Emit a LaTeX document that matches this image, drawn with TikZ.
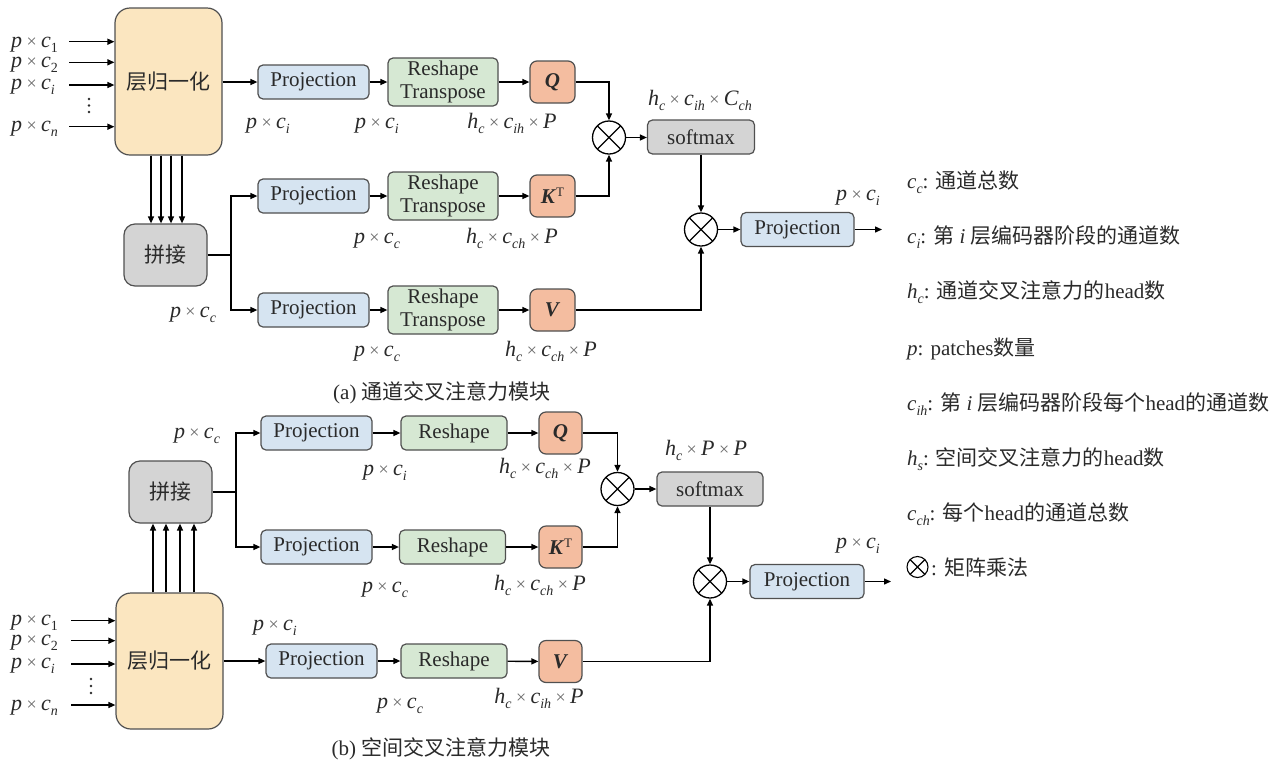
\documentclass[tikz,border=0pt]{standalone}
\usepackage{fontspec}
\setmainfont{Liberation Serif}
\newfontfamily\cjk{Noto Sans CJK SC}
\usetikzlibrary{arrows.meta}

\definecolor{lnfill}{HTML}{FBE6C0}
\definecolor{catfill}{HTML}{D4D4D4}
\definecolor{projfill}{HTML}{D6E4F1}
\definecolor{reshfill}{HTML}{D6E8D3}
\definecolor{qkvfill}{HTML}{F4BDA0}
\definecolor{edgec}{HTML}{505050}
\definecolor{txt}{HTML}{2A2A2A}
\definecolor{tmsc}{HTML}{6A6A6A}

\newcommand\sbs[1]{\raisebox{-0.55ex}{\fontsize{14}{14}\selectfont\textit{#1}}}
\newcommand\sbu[1]{\raisebox{-0.55ex}{\fontsize{14}{14}\selectfont #1}}
\newcommand\tx{\hspace{0.2em}{\color{tmsc}\fontsize{18}{18}\selectfont ×}\hspace{0.2em}}
\newcommand\vr[2]{\textit{#1}\sbs{#2}}
\newcommand\px[1]{\textit{p}\tx\vr{c}{#1}}
\newcommand\pxu[1]{\textit{p}\tx\textit{c}\sbu{#1}}
\newcommand\hcp[1]{\vr{h}{c}\tx\vr{c}{#1}\tx\textit{P}}
\newcommand\KT{\textbf{\textit{K}}\raisebox{0.75ex}{\fontsize{13}{13}\selectfont T}}

\begin{document}
\begin{tikzpicture}[x=1pt,y=-1pt,
  font=\fontsize{21}{23.5}\selectfont, text=txt,
  box/.style={draw=edgec, line width=1.2pt, rounded corners=5pt, inner sep=0pt, align=center},
  lnbox/.style={box, fill=lnfill, rounded corners=15pt, minimum width=107pt},
  catbox/.style={box, fill=catfill, rounded corners=11pt, minimum width=83pt, minimum height=62pt},
  proj/.style={box, fill=projfill, minimum width=111pt, minimum height=34pt},
  resh/.style={box, fill=reshfill, minimum height=34pt},
  qkv/.style={box, fill=qkvfill, rounded corners=7pt, minimum height=42pt},
  soft/.style={box, fill=catfill, minimum width=107pt, minimum height=34pt},
  mul/.style={circle, draw=black, line width=1.3pt, minimum size=33pt, inner sep=0pt,
    path picture={\draw[line width=1.3pt] (path picture bounding box.north west) -- (path picture bounding box.south east)
      (path picture bounding box.north east) -- (path picture bounding box.south west);}},
  lab/.style={anchor=base, inner sep=0pt, font=\fontsize{22}{24}\selectfont},
  inlab/.style={anchor=base west, inner sep=0pt, font=\fontsize{22}{24}\selectfont},
  leg/.style={anchor=base west, inner sep=0pt},
  arr/.style={-{Triangle[length=7pt,width=6pt]}, line width=1.4pt, black},
  wire/.style={line width=1.4pt, black},
  dot/.style={fill=txt}
]
\useasboundingbox (0,0) rectangle (1284,761);
\fill[white] (0,0) rectangle (1284,761);

% ================= (a) =================
\node[lnbox, minimum height=147pt] (lnA) at (168.5,81.5) {\cjk 层归一化};
\node[catbox] (catA) at (165.5,255) {\cjk 拼接};

\node[proj] (pA1) at (313.5,82) {Projection};
\node[resh, minimum width=110pt, minimum height=48pt] (rA1) at (443,82) {Reshape\\Transpose};
\node[qkv, minimum width=45pt] (qA) at (552.5,82) {\textbf{\textit{Q}}};

\node[proj] (pA2) at (313.5,196) {Projection};
\node[resh, minimum width=110pt, minimum height=48pt] (rA2) at (443,196) {Reshape\\Transpose};
\node[qkv, minimum width=45pt] (kA) at (552.5,196) {\KT};

\node[proj] (pA3) at (313.5,310) {Projection};
\node[resh, minimum width=110pt, minimum height=48pt] (rA3) at (443,310) {Reshape\\Transpose};
\node[qkv, minimum width=45pt] (vA) at (552.5,310) {\textbf{\textit{V}}};

\node[mul] (mA1) at (609,137.5) {};
\node[soft] (sA) at (701,137) {softmax};
\node[mul] (mA2) at (701,229.5) {};
\node[proj, minimum width=113pt] (pA4) at (797.5,229.5) {Projection};
\coordinate (outA) at (882,229.5);

% inputs (a)
\node[inlab] (iA1) at (11,47) {\pxu{1}};
\node[inlab] (iA2) at (11,67) {\pxu{2}};
\node[inlab] (iA3) at (11,89) {\px{i}};
\node[inlab] (iA4) at (11,131) {\px{n}};
\foreach \yy in {99,105.5,112} \fill[dot] (89,\yy) circle (1.4);
\coordinate (sA1) at (69,41.7);
\coordinate (sA2) at (69,62.3);
\coordinate (sA3) at (69,85);
\coordinate (sA4) at (69,126.7);
\foreach \s in {sA1,sA2,sA3,sA4} \draw[arr] (\s) -- (\s -| lnA.west);

\foreach \xx in {151,161,171,182}
  \draw[arr] (lnA.south -| \xx,0) -- (catA.north -| \xx,0);

\draw[arr] (lnA.east |- pA1.west) -- (pA1.west);
\coordinate (brA) at (231,255);
\draw[wire] (catA.east) -- (brA);
\draw[arr] (brA) |- (pA2.west);
\draw[arr] (brA) |- (pA3.west);

\draw[arr] (pA1) -- (rA1);
\draw[arr] (rA1) -- (qA);
\draw[arr] (pA2) -- (rA2);
\draw[arr] (rA2) -- (kA);
\draw[arr] (pA3) -- (rA3);
\draw[arr] (rA3) -- (vA);

\draw[arr] (qA.east) -| (mA1.north);
\draw[arr] (kA.east) -| (mA1.south);
\draw[arr] (mA1.east) -- (mA1.east -| sA.west);
\draw[arr] (sA.south) -- (mA2.north);
\draw[arr] (vA.east) -| (mA2.south);
\draw[arr] (mA2.east) -- (pA4.west);
\draw[arr] (pA4.east) -- (outA);

% labels (a)
\node[lab] at (268,128) {\px{i}};
\node[lab] at (193,317) {\px{c}};
\node[lab] at (377,128) {\px{i}};
\node[lab] at (512,128) {\hcp{ih}};
\node[lab] at (700,105) {\vr{h}{c}\tx\vr{c}{ih}\tx\vr{C}{ch}};
\node[lab] at (377,243) {\px{c}};
\node[lab] at (512,243) {\hcp{ch}};
\node[lab] at (377,356) {\px{c}};
\node[lab] at (551,356) {\hcp{ch}};
\node[lab] at (858,200) {\px{i}};

\node[anchor=base, inner sep=0pt] (capA) at (442,399) {(a) {\cjk 通道交叉注意力模块}};

% ================= (b) =================
\node[lnbox, minimum height=136pt] (lnB) at (169.5,661) {\cjk 层归一化};
\node[catbox] (catB) at (170.5,492) {\cjk 拼接};

\node[proj] (pB1) at (316.5,433) {Projection};
\node[resh, minimum width=106pt] (rB1) at (454,433) {Reshape};
\node[qkv, minimum width=43pt] (qB) at (560.5,433) {\textbf{\textit{Q}}};

\node[proj] (pB2) at (316.5,547) {Projection};
\node[resh, minimum width=106pt] (rB2) at (452.5,547) {Reshape};
\node[qkv, minimum width=43pt] (kB) at (560.5,547) {\KT};

\node[proj] (pB3) at (321.5,661) {Projection};
\node[resh, minimum width=106pt] (rB3) at (454,661) {Reshape};
\node[qkv, minimum width=43pt] (vB) at (560.5,661.5) {\textbf{\textit{V}}};

\node[mul] (mB1) at (617.5,489) {};
\node[soft, minimum width=106pt] (sB) at (710,489) {softmax};
\node[mul] (mB2) at (710,581.5) {};
\node[proj, minimum width=114pt] (pB4) at (807,581.5) {Projection};
\coordinate (outB) at (891,581.5);

% inputs (b)
\node[inlab] (iB1) at (11,625) {\pxu{1}};
\node[inlab] (iB2) at (11,645) {\pxu{2}};
\node[inlab] (iB3) at (11,668) {\px{i}};
\node[inlab] (iB4) at (11,710) {\px{n}};
\foreach \yy in {679,686,693} \fill[dot] (91,\yy) circle (1.4);
\coordinate (sB1) at (71,620.7);
\coordinate (sB2) at (71,640.7);
\coordinate (sB3) at (71,664);
\coordinate (sB4) at (71,705);
\foreach \s in {sB1,sB2,sB3,sB4} \draw[arr] (\s) -- (\s -| lnB.west);

\foreach \xx in {153,166,180,194}
  \draw[arr] (lnB.north -| \xx,0) -- (catB.south -| \xx,0);

\draw[arr] (lnB.east |- pB3.west) -- (pB3.west);
\coordinate (brB) at (236,492);
\draw[wire] (catB.east) -- (brB);
\draw[arr] (brB) |- (pB1.west);
\draw[arr] (brB) |- (pB2.west);

\draw[arr] (pB1) -- (rB1);
\draw[arr] (rB1) -- (qB);
\draw[arr] (pB2) -- (rB2);
\draw[arr] (rB2) -- (kB);
\draw[arr] (pB3) -- (rB3);
\draw[arr] (rB3) -- (vB);

\draw[arr] (qB.east) -| (mB1.north);
\draw[arr] (kB.east) -| (mB1.south);
\draw[arr] (mB1.east) -- (mB1.east -| sB.west);
\draw[arr] (sB.south) -- (mB2.north);
\draw[arr] (vB.east) -| (mB2.south);
\draw[arr] (mB2.east) -- (pB4.west);
\draw[arr] (pB4.east) -- (outB);

% labels (b)
\node[lab] at (197,438) {\px{c}};
\node[lab] at (385,475) {\px{i}};
\node[lab] at (545,473) {\hcp{ch}};
\node[lab] at (706,455) {\vr{h}{c}\tx\textit{P}\tx\textit{P}};
\node[lab] at (385,592) {\px{c}};
\node[lab] at (540,590) {\hcp{ch}};
\node[lab] at (275,630) {\px{i}};
\node[lab] at (400,708) {\px{c}};
\node[lab] at (539,703) {\hcp{ih}};
\node[lab] at (858,548) {\px{i}};

\node[anchor=base, inner sep=0pt] (capB) at (441,755) {(b) {\cjk 空间交叉注意力模块}};

% ================= legend =================
\node[leg] (g1) at (907,188) {\vr{c}{c}: {\cjk 通道总数}};
\node[leg] (g2) at (907,243) {\vr{c}{i}: {\cjk 第} \textit{i} {\cjk 层编码器阶段的通道数}};
\node[leg] (g3) at (907,298) {\vr{h}{c}: {\cjk 通道交叉注意力的}head{\cjk 数}};
\node[leg] (g4) at (907,355) {\textit{p}: patches{\cjk 数量}};
\node[leg] (g5) at (907,410) {\vr{c}{ih}: {\cjk 第} \textit{i} {\cjk 层编码器阶段每个}head{\cjk 的通道数}};
\node[leg] (g6) at (907,465) {\vr{h}{s}: {\cjk 空间交叉注意力的}head{\cjk 数}};
\node[leg] (g7) at (907,520) {\vr{c}{ch}: {\cjk 每个}head{\cjk 的通道总数}};
\node[mul, minimum size=21pt, line width=1.1pt] (g8m) at (917.5,567) {};
\node[leg] (g8) at (931,575) {: {\cjk 矩阵乘法}};
\end{tikzpicture}
\end{document}
